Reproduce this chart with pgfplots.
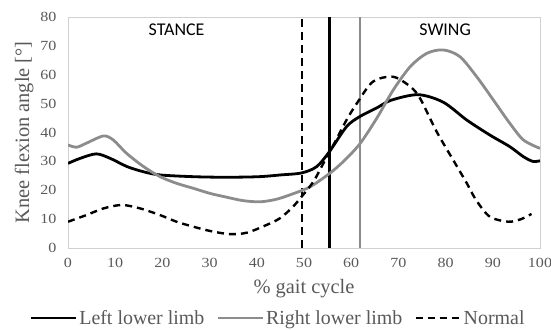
\documentclass[border=0pt]{standalone}
\usepackage{fontspec}
\setmainfont{Liberation Serif}
\newfontfamily\tickfont[FakeStretch=1.15]{Liberation Serif}
\newfontfamily\calfont{Carlito}
\usepackage{pgfplots}
\pgfplotsset{compat=1.18}
\definecolor{txtgray}{HTML}{595959}
\definecolor{curvegray}{HTML}{8C8C8C}
\definecolor{framegray}{HTML}{D0D0D0}
\begin{document}
\begin{tikzpicture}
\useasboundingbox (0,0) rectangle (551bp,330bp);
\begin{axis}[
  at={(68bp,82bp)}, anchor=south west,
  width=472bp, height=231bp, scale only axis,
  xmin=0, xmax=100, ymin=0, ymax=80,
  xtick={0,10,...,100}, ytick={0,10,...,80},
  major tick length=0pt,
  axis line style={draw=framegray, line width=0.9bp},
  /pgf/number format/assume math mode=true,
  ticklabel style={font=\fontsize{14}{16}\tickfont, text=txtgray},
  yticklabel style={xshift=-8bp},
  xticklabel style={yshift=-7bp},
  xlabel={\% gait cycle},
  ylabel={Knee flexion angle [°]},
  label style={font=\fontsize{20.5}{23}\selectfont, text=txtgray},
  xlabel style={at={(axis description cs:0.5,-0.178)}, anchor=center},
  ylabel style={at={(axis description cs:-0.093,0.5)}, anchor=center, rotate=0},
  legend columns=3,
  legend style={at={(axis description cs:0.445,-0.303)}, anchor=center, draw=none, fill=none,
    font=\fontsize{20}{22}\selectfont, text=txtgray,
    /tikz/every even column/.append style={column sep=10bp},
    inner sep=0pt},
  legend cell align=left,
  legend image code/.code={\draw[#1] plot coordinates {(0bp,0bp) (45bp,0bp)};},
]
% phase lines
\addplot[black, line width=2.2bp, dash pattern=on 8bp off 5bp, forget plot] coordinates {(49.5,0) (49.5,80)};
\addplot[black, line width=2.2bp, forget plot] coordinates {(55.4,0) (55.4,80)};
\addplot[curvegray, line width=2.2bp, forget plot] coordinates {(61.8,0) (61.8,80)};

\addplot[black, line width=2.8bp, smooth, tension=0.5] coordinates {
(0,29.3) (2.5,31.0) (6,32.6) (9,31.0) (12.5,28.2) (16,26.4) (19.5,25.3)
(26.5,24.7) (33.5,24.5) (40.5,24.7) (45,25.3) (49.5,26.0) (52.7,28.2)
(55.4,33.4) (59,42.0) (61.8,45.5) (65.4,48.5) (68.5,51.2) (74.2,53.1)
(79.5,50.5) (84.5,44.3) (89.4,39.1) (93.6,35.1) (96.5,31.6) (98.5,30.0) (100,30.2)};
\addlegendentry{Left lower limb}

\addplot[curvegray, line width=2.8bp, smooth, tension=0.5] coordinates {
(0,35.7) (1.8,34.9) (3.9,36.3) (7.5,38.8) (9.6,37.4) (12.4,32.8) (16,28.2)
(19.5,24.7) (23,22.4) (26.5,20.7) (30.1,18.9) (33.6,17.6) (37.1,16.4)
(40.7,16.0) (44.2,16.9) (47.7,18.8) (51.3,21.2) (55.4,25.8) (58.3,29.9)
(61.8,36.0) (65.4,44.9) (68.9,54.7) (72.5,62.8) (76,67.4) (79.5,68.6)
(83,66.3) (86.6,59.3) (90.1,51.3) (93.6,43.2) (96.5,37.4) (100,34.5)};
\addlegendentry{Right lower limb}

\addplot[black, line width=2.4bp, dash pattern=on 7bp off 5bp, smooth, tension=0.5] coordinates {
(0,9.1) (3.9,11.4) (7.5,13.7) (11.4,14.9) (15.3,13.7) (19.5,11.4) (23,9.1)
(26.5,7.4) (30.1,5.9) (34.3,4.8) (37.9,5.3) (42.1,8.0) (44.9,10.3) (47.5,14.0)
(49.5,17.8) (52,23.0) (54.1,29.3) (56.5,36.5) (59,44.3) (61.2,50.1) (64.6,57.6)
(68.9,59.3) (72.5,55.9) (74.6,51.8) (78.1,40.3) (81.6,30.5) (84.5,22.4)
(86.5,16.5) (89.4,10.8) (93.3,9.1) (96,10.0) (98.2,11.8)};
\addlegendentry{Normal}

\node[font=\fontsize{18}{21}\calfont, text=black] at (axis cs:23,75.5) {STANCE};
\node[font=\fontsize{18}{21}\calfont, text=black] at (axis cs:79.9,75.5) {SWING};
\end{axis}
\end{tikzpicture}
\end{document}
